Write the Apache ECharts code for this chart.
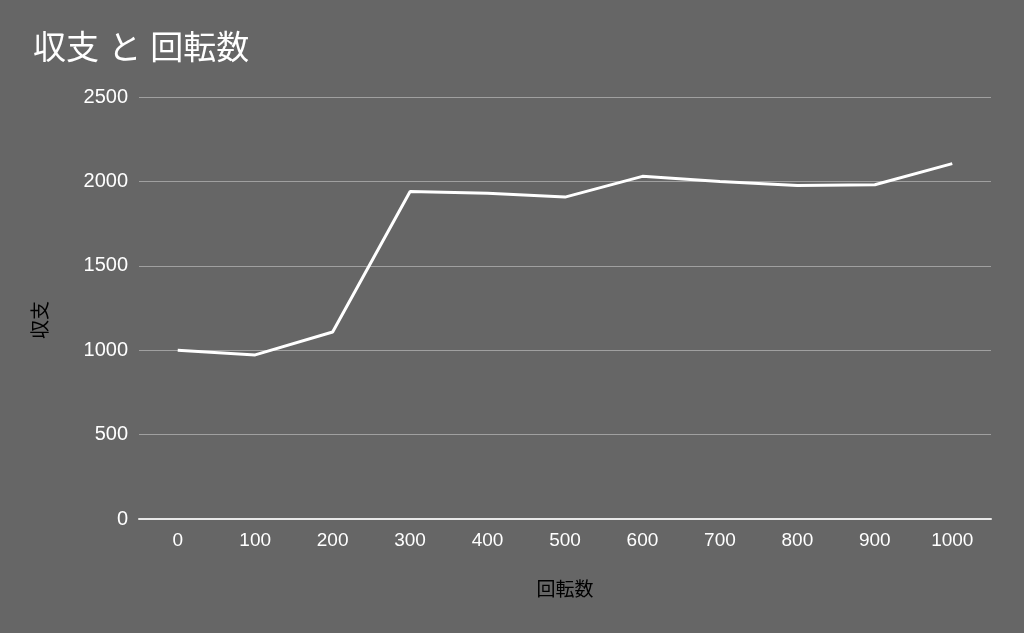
<!DOCTYPE html>
<html>
<head>
<meta charset="utf-8">
<script src="https://cdn.jsdelivr.net/npm/echarts@6/dist/echarts.min.js"></script>
<style>
  html, body { margin: 0; padding: 0; background: #666666; }
  #chart { width: 1024px; height: 633px; }
</style>
</head>
<body>
<div id="chart"></div>
<script>
// 回転数ごとの収支
const spins = ['0', '100', '200', '300', '400', '500', '600', '700', '800', '900', '1000'];
const balance = [1000, 972, 1108, 1940, 1930, 1907, 2030, 2000, 1975, 1980, 2105];
const titleText = '収支 と 回転数';
const xName = '回転数';
const yName = '収支';

const FONT = '"Liberation Sans", "Noto Sans CJK JP", sans-serif';
const CJK = '"Noto Sans CJK JP", sans-serif';

const chart = echarts.init(document.getElementById('chart'), null, { renderer: 'canvas' });
chart.setOption({
  backgroundColor: '#666666',
  animation: false,
  title: {
    text: titleText,
    left: 28,
    top: 28,
    textStyle: { color: '#ffffff', fontSize: 33, fontWeight: 'normal', fontFamily: FONT }
  },
  grid: { left: 139, right: 33, top: 97, bottom: 114, containLabel: false },
  xAxis: {
    type: 'category',
    data: spins,
    boundaryGap: true,
    name: xName,
    nameLocation: 'middle',
    nameGap: 60,
    nameTextStyle: { color: '#000000', fontSize: 19, fontFamily: CJK },
    axisLine: { show: true, lineStyle: { color: '#e8e8e8', width: 2 } },
    axisTick: { show: false },
    axisLabel: { color: '#ffffff', fontSize: 19, fontFamily: FONT, margin: 12 },
    splitLine: { show: false }
  },
  yAxis: {
    type: 'value',
    min: 0,
    max: 2500,
    interval: 500,
    name: yName,
    nameLocation: 'middle',
    nameGap: 90,
    nameTextStyle: { color: '#000000', fontSize: 19, fontFamily: CJK, padding: [0, 24, 0, 0] },
    axisLine: { show: false },
    axisTick: { show: false },
    axisLabel: {
      color: '#ffffff', fontSize: 20, fontFamily: FONT, margin: 11,
      formatter: function (v) { return String(v); }
    },
    splitLine: { show: true, lineStyle: { color: '#a0a0a0', width: 1 } }
  },
  series: [{
    type: 'line',
    data: balance,
    symbol: 'none',
    smooth: false,
    lineStyle: { color: '#ffffff', width: 3 },
    itemStyle: { color: '#ffffff' }
  }]
});
</script>
</body>
</html>
